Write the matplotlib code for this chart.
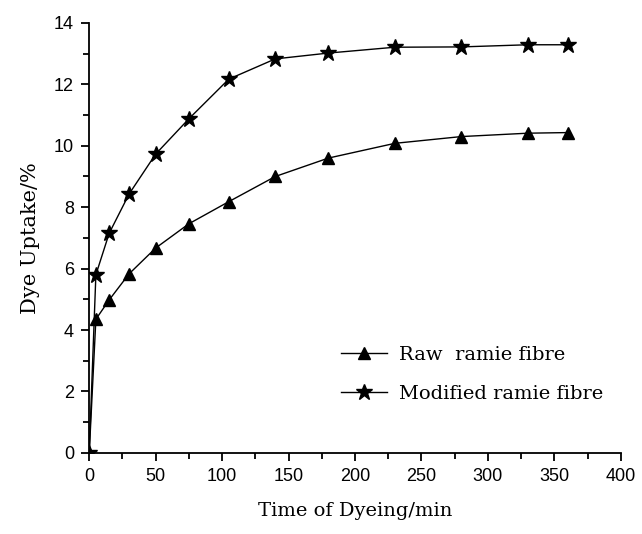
import matplotlib
matplotlib.use("Agg")
import matplotlib.pyplot as plt
from matplotlib.ticker import MultipleLocator

# dyeing time (min) and dye uptake (%)
time_min = [0, 5, 15, 30, 50, 75, 105, 140, 180, 230, 280, 330, 360]
raw_uptake = [0, 4.35, 4.98, 5.83, 6.67, 7.46, 8.18, 9.0, 9.6, 10.08, 10.3, 10.41, 10.43]
modified_uptake = [0, 5.8, 7.15, 8.43, 9.73, 10.88, 12.17, 12.83, 13.02, 13.21, 13.22, 13.29, 13.29]

fig = plt.figure(figsize=(6.42, 5.34), dpi=100)
ax = fig.add_axes([0.139, 0.152, 0.828, 0.805])

ax.plot(time_min, raw_uptake, color='black', lw=1.0, marker='^', ms=8,
        label='Raw  ramie fibre')
ax.plot(time_min, modified_uptake, color='black', lw=1.0, marker='*', ms=12,
        label='Modified ramie fibre')

ax.set_xlim(0, 400)
ax.set_ylim(0, 14)
ax.xaxis.set_major_locator(MultipleLocator(50))
ax.xaxis.set_minor_locator(MultipleLocator(25))
ax.yaxis.set_major_locator(MultipleLocator(2))
ax.yaxis.set_minor_locator(MultipleLocator(1))
ax.spines['top'].set_visible(False)
ax.spines['right'].set_visible(False)
for s in ('left', 'bottom'):
    ax.spines[s].set_linewidth(1.3)
ax.tick_params(which='major', direction='out', length=6, width=1.3,
               labelsize=13, pad=5)
ax.tick_params(which='minor', direction='out', length=4, width=1.3)
for lab in ax.get_xticklabels() + ax.get_yticklabels():
    lab.set_fontfamily('Liberation Sans')

ax.set_xlabel('Time of Dyeing/min', family='DejaVu Serif', fontsize=14, labelpad=12)
ax.set_ylabel('Dye Uptake/%', family='DejaVu Serif', fontsize=15, labelpad=10)

ax.legend(loc='upper left', bbox_to_anchor=(0.44, 0.29), frameon=False,
          prop={'family': 'DejaVu Serif', 'size': 14},
          handlelength=2.4, labelspacing=1.1, handletextpad=0.6)

fig.savefig('out.png')
